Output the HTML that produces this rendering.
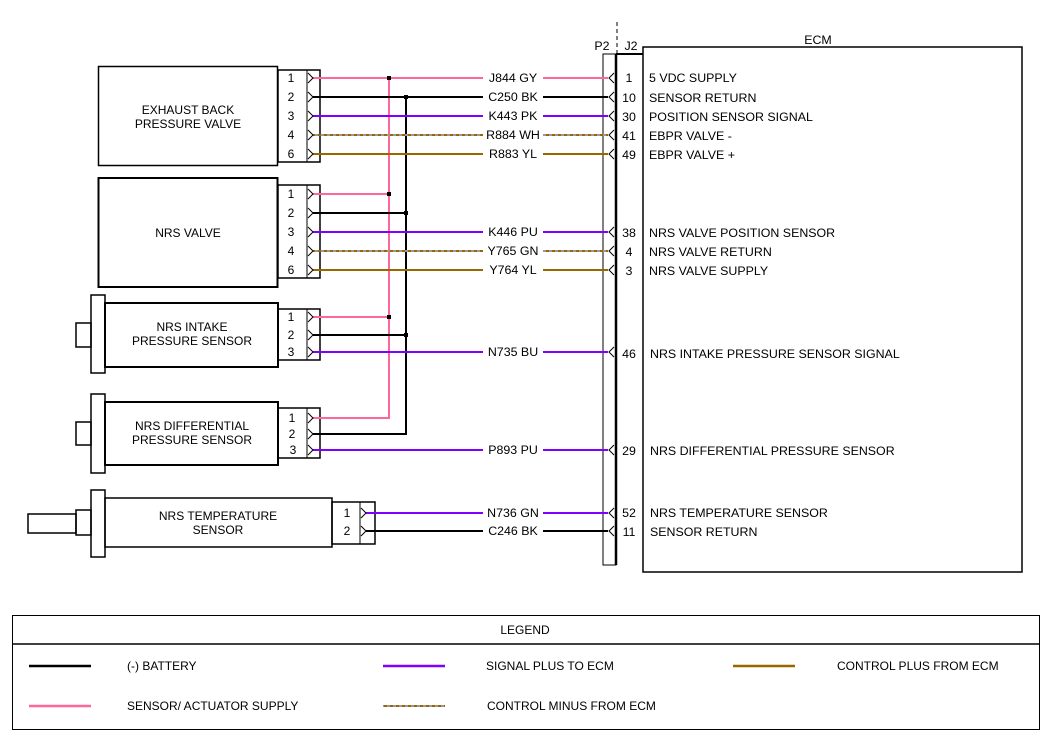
<!DOCTYPE html>
<html><head><meta charset="utf-8"><style>
html,body{margin:0;padding:0;background:#fff}
svg{display:block}
text{font-family:"Liberation Sans",sans-serif;font-size:12px;fill:#000}
.e text{font-size:12.4px}
</style></head><body>
<svg width="1050" height="750" viewBox="0 0 1050 750" xmlns="http://www.w3.org/2000/svg">
<defs>
<pattern id="cm" width="6" height="2" patternUnits="userSpaceOnUse"><rect width="3" height="2" fill="#996600"/><rect x="3" width="3" height="2" fill="#999"/></pattern>
</defs>
<g fill="none" stroke="#000">
<rect x="98.5" y="66.5" width="179" height="99" stroke-width="1.5"/>
<rect x="278" y="70" width="42" height="92" stroke-width="1.5"/>
<line x1="307" y1="70" x2="307" y2="162"/>
<rect x="98.5" y="178" width="179" height="109" stroke-width="2"/>
<rect x="278" y="185" width="42" height="93" stroke-width="1.5"/>
<line x1="307" y1="185" x2="307" y2="278"/>
<rect x="91" y="295" width="14" height="78" stroke-width="1.5"/>
<rect x="105" y="303" width="173" height="64" stroke-width="2"/>
<rect x="76" y="323" width="15" height="24" stroke-width="1.5"/>
<rect x="278" y="309" width="42" height="51" stroke-width="1.5"/>
<line x1="307" y1="309" x2="307" y2="360"/>
<rect x="91" y="394" width="14" height="79" stroke-width="1.5"/>
<rect x="105" y="402" width="173" height="63" stroke-width="2"/>
<rect x="76" y="422" width="15" height="23" stroke-width="1.5"/>
<rect x="278" y="408" width="42" height="50" stroke-width="1.5"/>
<line x1="307" y1="408" x2="307" y2="458"/>
<rect x="91" y="490" width="14" height="67" stroke-width="1.5"/>
<rect x="105" y="498" width="227" height="49" stroke-width="1.5"/>
<rect x="28" y="514" width="48" height="19" stroke-width="1.5"/>
<rect x="76" y="510" width="15" height="25" stroke-width="1.5"/>
<rect x="332" y="502" width="43" height="42" stroke-width="1.5"/>
<line x1="360" y1="502" x2="360" y2="544"/>
<rect x="603" y="54" width="13" height="511" stroke-width="1"/>
<line x1="616" y1="54" x2="616" y2="565" stroke-width="2.5"/>
<line x1="616" y1="54" x2="643" y2="54" stroke-width="2"/>
<line x1="617" y1="22" x2="617" y2="54" stroke-dasharray="4,3"/>
<rect x="643" y="47" width="379" height="525" stroke-width="1.5"/>
<rect x="12.5" y="615.5" width="1027" height="114"/>
<line x1="12" y1="644" x2="1040" y2="644" stroke-width="1.5"/>
</g>

<g stroke-width="2" fill="none">
<g stroke="#ff6699">
<line x1="313" y1="78" x2="483" y2="78"/><line x1="543" y1="78" x2="608" y2="78"/>
<line x1="313" y1="194" x2="389" y2="194"/>
<line x1="313" y1="317" x2="389" y2="317"/>
<polyline points="313,418 389,418 389,78"/>
</g>
<g stroke="#000">
<line x1="313" y1="97" x2="483" y2="97"/><line x1="543" y1="97" x2="608" y2="97"/>
<line x1="313" y1="213" x2="406" y2="213"/>
<line x1="313" y1="335" x2="406" y2="335"/>
<polyline points="313,434 406,434 406,97"/>
<line x1="366" y1="531" x2="483" y2="531"/><line x1="543" y1="531" x2="608" y2="531"/>
</g>
<g stroke="#8000ff">
<line x1="313" y1="116" x2="483" y2="116"/><line x1="543" y1="116" x2="608" y2="116"/>
<line x1="313" y1="232" x2="483" y2="232"/><line x1="543" y1="232" x2="608" y2="232"/>
<line x1="313" y1="352" x2="483" y2="352"/><line x1="543" y1="352" x2="608" y2="352"/>
<line x1="313" y1="450" x2="483" y2="450"/><line x1="543" y1="450" x2="608" y2="450"/>
<line x1="366" y1="513" x2="483" y2="513"/><line x1="543" y1="513" x2="608" y2="513"/>
</g>
<g stroke="#996600">
<line x1="313" y1="154" x2="483" y2="154"/><line x1="543" y1="154" x2="608" y2="154"/>
<line x1="313" y1="270" x2="483" y2="270"/><line x1="543" y1="270" x2="608" y2="270"/>
</g>
</g>
<g fill="url(#cm)">
<rect x="313" y="134" width="170" height="2"/><rect x="543" y="134" width="65" height="2"/>
<rect x="313" y="250" width="170" height="2"/><rect x="543" y="250" width="65" height="2"/>
</g>
<g fill="#000">
<rect x="387" y="76" width="4" height="4"/><rect x="387" y="192" width="4" height="4"/><rect x="387" y="315" width="4" height="4"/>
<rect x="404" y="95" width="4" height="4"/><rect x="404" y="211" width="4" height="4"/><rect x="404" y="333" width="4" height="4"/>
</g>
<g fill="none" stroke="#000" stroke-width="1">
<path d="M308,73 L313,78 L308,83 M308,92 L313,97 L308,102 M308,111 L313,116 L308,121 M308,130 L313,135 L308,140 M308,149 L313,154 L308,159"/>
<path d="M308,189 L313,194 L308,199 M308,208 L313,213 L308,218 M308,227 L313,232 L308,237 M308,246 L313,251 L308,256 M308,265 L313,270 L308,275"/>
<path d="M308,312 L313,317 L308,322 M308,330 L313,335 L308,340 M308,347 L313,352 L308,357"/>
<path d="M308,413 L313,418 L308,423 M308,429 L313,434 L308,439 M308,445 L313,450 L308,455"/>
<path d="M361,508 L366,513 L361,518 M361,526 L366,531 L361,536"/>
<path d="M614,73 L609,78 L614,83 M614,92 L609,97 L614,102 M614,111 L609,116 L614,121 M614,130 L609,135 L614,140 M614,149 L609,154 L614,159 M614,227 L609,232 L614,237 M614,246 L609,251 L614,256 M614,265 L609,270 L614,275 M614,347 L609,352 L614,357 M614,445 L609,450 L614,455 M614,508 L609,513 L614,518 M614,526 L609,531 L614,536"/>
</g>

<g text-anchor="middle">
<text x="188" y="114">EXHAUST BACK</text><text x="188" y="128">PRESSURE VALVE</text>
<text x="188" y="237">NRS VALVE</text>
<text x="192" y="331">NRS INTAKE</text><text x="192" y="345">PRESSURE SENSOR</text>
<text x="192" y="430">NRS DIFFERENTIAL</text><text x="192" y="444">PRESSURE SENSOR</text>
<text x="218" y="520">NRS TEMPERATURE</text><text x="218" y="534">SENSOR</text>
</g>
<g text-anchor="middle">
<text x="291" y="82">1</text><text x="291" y="101">2</text><text x="291" y="120">3</text><text x="291" y="139">4</text><text x="291" y="158">6</text>
<text x="291" y="198">1</text><text x="291" y="217">2</text><text x="291" y="236">3</text><text x="291" y="255">4</text><text x="291" y="274">6</text>
<text x="291" y="321">1</text><text x="291" y="339">2</text><text x="291" y="356">3</text>
<text x="292" y="422">1</text><text x="292" y="438">2</text><text x="293" y="454">3</text>
<text x="347" y="517">1</text><text x="347" y="535">2</text>
</g>
<g text-anchor="middle" class="e">
<text x="513" y="82">J844 GY</text><text x="513" y="101">C250 BK</text><text x="513" y="120">K443 PK</text><text x="513" y="139">R884 WH</text><text x="513" y="158">R883 YL</text>
<text x="513" y="236">K446 PU</text><text x="513" y="255">Y765 GN</text><text x="513" y="274">Y764 YL</text>
<text x="513" y="356">N735 BU</text><text x="513" y="454">P893 PU</text>
<text x="513" y="517">N736 GN</text><text x="513" y="535">C246 BK</text>
</g>
<g text-anchor="middle" class="e">
<text x="629" y="82">1</text><text x="629" y="102">10</text><text x="629" y="121">30</text><text x="629" y="140">41</text><text x="629" y="159">49</text>
<text x="629" y="237">38</text><text x="629" y="256">4</text><text x="629" y="275">3</text>
<text x="629" y="358">46</text><text x="629" y="455">29</text><text x="629" y="517">52</text><text x="629" y="536">11</text>
<text x="602" y="50">P2</text><text x="631" y="50">J2</text><text x="818" y="44">ECM</text>
</g>
<g class="e">
<text x="649" y="82">5 VDC SUPPLY</text><text x="649" y="102">SENSOR RETURN</text><text x="649" y="121">POSITION SENSOR SIGNAL</text><text x="649" y="140">EBPR VALVE -</text><text x="649" y="159">EBPR VALVE +</text>
<text x="649" y="237">NRS VALVE POSITION SENSOR</text><text x="649" y="256">NRS VALVE RETURN</text><text x="649" y="275">NRS VALVE SUPPLY</text>
<text x="650" y="358">NRS INTAKE PRESSURE SENSOR SIGNAL</text><text x="650" y="455">NRS DIFFERENTIAL PRESSURE SENSOR</text>
<text x="650" y="517">NRS TEMPERATURE SENSOR</text><text x="650" y="536">SENSOR RETURN</text>
</g>
<text x="525" y="634" text-anchor="middle">LEGEND</text>
<g stroke-width="2.5">
<line x1="29" y1="666" x2="91" y2="666" stroke="#000"/>
<line x1="383" y1="666" x2="445" y2="666" stroke="#8000ff"/>
<line x1="733" y1="666" x2="795" y2="666" stroke="#996600"/>
<line x1="29" y1="706" x2="91" y2="706" stroke="#ff6699"/>
</g>
<rect x="383" y="705" width="62" height="2" fill="url(#cm)"/>
<text x="127" y="670">(-) BATTERY</text>
<text x="486" y="670">SIGNAL PLUS TO ECM</text>
<text x="837" y="670">CONTROL PLUS FROM ECM</text>
<text x="127" y="710">SENSOR/ ACTUATOR SUPPLY</text>
<text x="487" y="710">CONTROL MINUS FROM ECM</text>
</svg>
</body></html>
